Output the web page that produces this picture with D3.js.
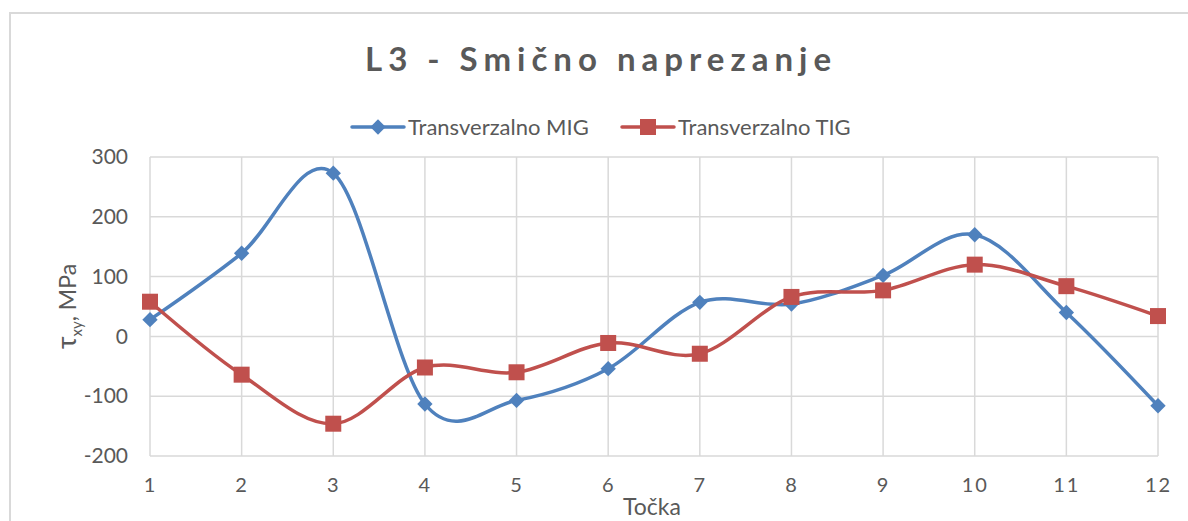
<!DOCTYPE html>
<html>
<head>
<meta charset="utf-8">
<script src="https://cdn.jsdelivr.net/npm/d3@7"></script>
<style>
  html, body { margin: 0; padding: 0; background: #fff; }
  svg { display: block; font-family: Lato, "Open Sans", sans-serif; }
</style>
</head>
<body>
<svg id="chart" width="1188" height="521"></svg>
<script>
// Measurement points along the weld
const points = [1, 2, 3, 4, 5, 6, 7, 8, 9, 10, 11, 12];
// Shear stress τxy in MPa
const migValues = [28, 139, 273, -113, -107, -54, 57, 54, 102, 170, 40, -116];
const tigValues = [58, -64, -146, -52, -60, -11, -29, 66, 77, 120, 84, 34];
const yTicks = [-200, -100, 0, 100, 200, 300];

const seriesNames = ["Transverzalno MIG", "Transverzalno TIG"];
const colors = ["#4f81bd", "#c0504d"];

const svg = d3.select("#chart");
const W = 1188, H = 521;

// Chart area frame
svg.append("rect")
  .attr("x", 10).attr("y", 13)
  .attr("width", W + 20).attr("height", H + 20)
  .attr("fill", "#fff").attr("stroke", "#d9d9d9").attr("stroke-width", 2);

const plot = { left: 150, right: 1158, top: 157, bottom: 456 };

const x = d3.scaleLinear().domain([1, 12]).range([plot.left, plot.right]);
const y = d3.scaleLinear().domain([-200, 300]).range([plot.bottom, plot.top]);

// Gridlines
const grid = svg.append("g").attr("stroke", "#d9d9d9").attr("stroke-width", 1.5);
grid.selectAll("line.h").data(yTicks).join("line")
  .attr("x1", plot.left).attr("x2", plot.right)
  .attr("y1", d => y(d)).attr("y2", d => y(d));
grid.selectAll("line.v").data(points).join("line")
  .attr("x1", d => x(d)).attr("x2", d => x(d))
  .attr("y1", plot.top).attr("y2", plot.bottom);

// Y axis tick labels (plain hyphen for negatives)
const yAxis = d3.axisLeft(y).tickValues(yTicks).tickSize(0).tickPadding(22)
  .tickFormat(d => String(d));
svg.append("g")
  .attr("transform", `translate(${plot.left},0)`)
  .call(yAxis)
  .call(g => g.select(".domain").remove())
  .call(g => g.selectAll("text")
    .attr("fill", "#595959").attr("font-size", 21)
    .attr("font-family", "Lato, sans-serif"));

// X axis tick labels
const xAxis = d3.axisBottom(x).tickValues(points).tickSize(0).tickPadding(22)
  .tickFormat(d => String(d));
svg.append("g")
  .attr("transform", `translate(0,${plot.bottom})`)
  .call(xAxis)
  .call(g => g.select(".domain").remove())
  .call(g => g.selectAll("text")
    .attr("fill", "#595959").attr("font-size", 20)
    .attr("letter-spacing", 2)
    .attr("font-family", "Lato, sans-serif"));

// Axis titles
svg.append("text")
  .attr("x", (plot.left + plot.right) / 2 - 2).attr("y", 515)
  .attr("text-anchor", "middle")
  .attr("fill", "#595959").attr("font-size", 23)
  .text("Točka");

const yTitle = svg.append("text")
  .attr("transform", `translate(76,${(plot.top + plot.bottom) / 2}) rotate(-90)`)
  .attr("text-anchor", "middle")
  .attr("fill", "#595959").attr("font-size", 23);
yTitle.append("tspan").attr("font-size", 27).text("τ");
yTitle.append("tspan").attr("font-size", 15).attr("dy", 6).text("xy");
yTitle.append("tspan").attr("dy", -6).text(", MPa");

// Title
svg.append("text")
  .attr("x", 601).attr("y", 71)
  .attr("text-anchor", "middle")
  .attr("fill", "#595959").attr("font-size", 33).attr("font-weight", "bold")
  .attr("letter-spacing", 6)
  .text("L3 - Smično naprezanje");

// Smoothed series lines
const line = d3.line()
  .x((d, i) => x(points[i]))
  .y(d => y(d))
  .curve(d3.curveCardinal.tension(0));

const diamond = d3.symbol().type(d3.symbolDiamond2).size(150);

function drawSeries(values, color, marker) {
  svg.append("path")
    .datum(values)
    .attr("fill", "none").attr("stroke", color)
    .attr("stroke-width", 3.5).attr("stroke-linejoin", "round")
    .attr("d", line);
  const g = svg.append("g");
  if (marker === "diamond") {
    g.selectAll("path").data(values).join("path")
      .attr("transform", (d, i) => `translate(${x(points[i])},${y(d)})`)
      .attr("d", diamond).attr("fill", color);
  } else {
    g.selectAll("rect").data(values).join("rect")
      .attr("x", (d, i) => x(points[i]) - 8).attr("y", d => y(d) - 8)
      .attr("width", 16).attr("height", 16).attr("fill", color);
  }
}

drawSeries(migValues, colors[0], "diamond");
drawSeries(tigValues, colors[1], "square");

// Legend
const legend = [
  { name: seriesNames[0], color: colors[0], marker: "diamond", x0: 352 },
  { name: seriesNames[1], color: colors[1], marker: "square", x0: 622 }
];
const ly = 127;
legend.forEach(l => {
  svg.append("line")
    .attr("x1", l.x0).attr("x2", l.x0 + 52)
    .attr("y1", ly).attr("y2", ly)
    .attr("stroke", l.color).attr("stroke-width", 3.5).attr("stroke-linecap", "round");
  if (l.marker === "diamond") {
    svg.append("path")
      .attr("transform", `translate(${l.x0 + 26},${ly})`)
      .attr("d", diamond).attr("fill", l.color);
  } else {
    svg.append("rect")
      .attr("x", l.x0 + 26 - 8).attr("y", ly - 8)
      .attr("width", 16).attr("height", 16).attr("fill", l.color);
  }
  svg.append("text")
    .attr("x", l.x0 + 56).attr("y", ly + 8)
    .attr("fill", "#595959").attr("font-size", 22)
    .text(l.name);
});
</script>
</body>
</html>
